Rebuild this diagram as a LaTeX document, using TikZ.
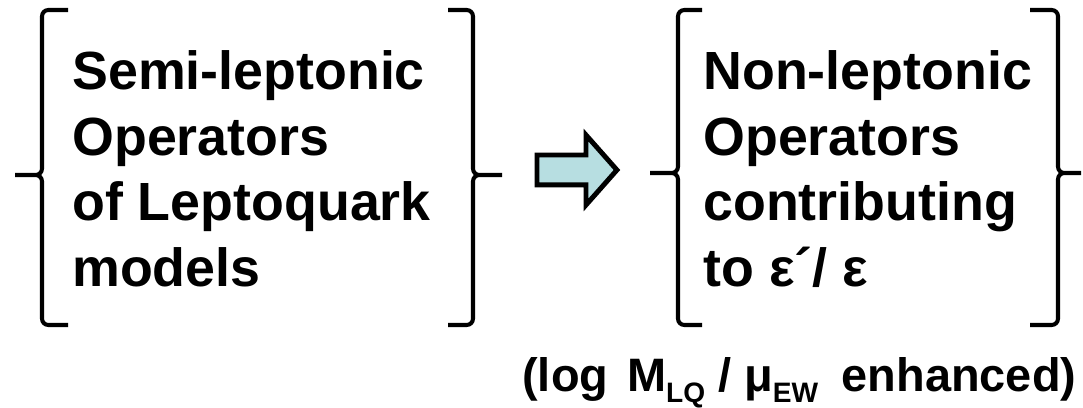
\documentclass[tikz,border=0pt]{standalone}
\usepackage{fontspec}
\setmainfont{Liberation Sans}
\usetikzlibrary{shapes.arrows}

\definecolor{arrowcyan}{RGB}{183,222,225}
\newcommand{\lowidx}[1]{\raisebox{-6pt}{\fontsize{16}{16}\selectfont #1}}

\begin{document}
\begin{tikzpicture}[x=0.02cm, y=-0.02cm,
        textblock/.style={inner sep=0pt, align=left,
            font=\fontsize{30.6}{37.4}\selectfont\bfseries},
        notetext/.style={inner sep=0pt,
            font=\fontsize{26.7}{30}\selectfont\bfseries},
        braceline/.style={line width=2.3pt, rounded corners=3.6pt},
        bigarrow/.style={single arrow, draw=black, fill=arrowcyan,
            line width=2.8pt, inner xsep=0pt, inner ysep=0.25cm,
            minimum height=1.6cm, single arrow head extend=0.4cm,
            single arrow tip angle=97}]

        \useasboundingbox (0,0) rectangle (1083,408);

        % Left group: semi-leptonic operators
        \draw[braceline] (68,10) -- (42,10) -- (42,175) -- (15,175)
                         (15,175) -- (42,175) -- (42,325) -- (68,325);
        \node[textblock, anchor=north west] (semilep) at (72,50)
            {Semi-leptonic\\Operators\\of Leptoquark\\models};
        \draw[braceline] (448,10) -- (473,10) -- (473,175) -- (502,175)
                         (502,175) -- (473,175) -- (473,325) -- (448,325);

        % Block arrow
        \node[bigarrow, anchor=tail] (step1) at (534.5,170) {};

        % Right group: non-leptonic operators
        \draw[braceline] (702,10) -- (678,10) -- (678,173) -- (650,173)
                         (650,173) -- (678,173) -- (678,325) -- (702,325);
        \node[textblock, anchor=north west] (nonlep) at (703,50)
            {Non-leptonic\\Operators\\contributing\\to ε´/ ε};
        \draw[braceline] (1030,10) -- (1058,10) -- (1058,173) -- (1081,173)
                         (1081,173) -- (1058,173) -- (1058,325) -- (1030,325);

        % Note below
        \node[notetext, anchor=base west] (enhance) at (522,392)
            {(log\hspace{0.4em}M\lowidx{LQ} / μ\lowidx{EW}\hspace{0.5em}enhanced)};
    \end{tikzpicture}
\end{document}
